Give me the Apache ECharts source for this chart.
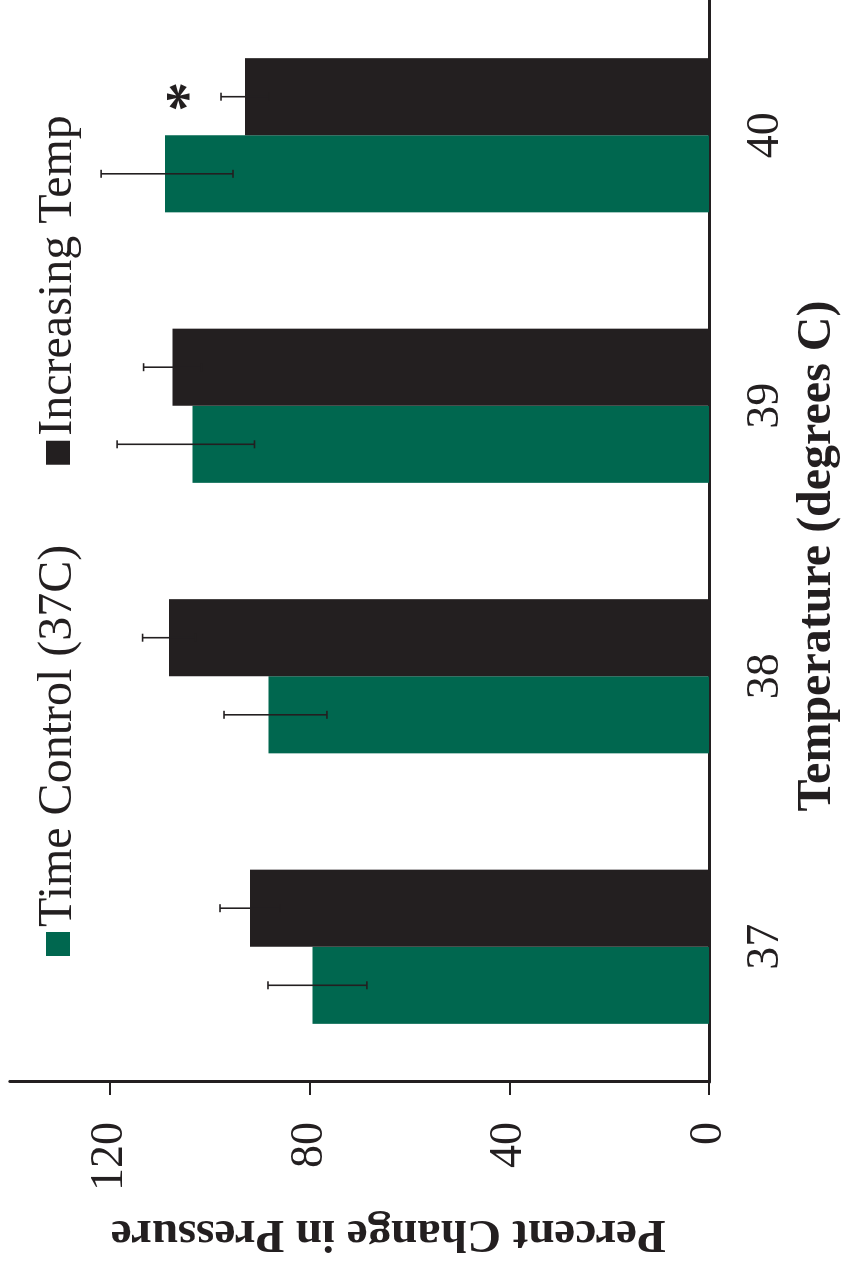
<!DOCTYPE html>
<html>
<head>
<meta charset="utf-8">
<script src="https://cdn.jsdelivr.net/npm/echarts@6/dist/echarts.min.js"></script>
<style>
  html, body { margin: 0; padding: 0; background: #ffffff; }
  body { width: 847px; height: 1266px; overflow: hidden; position: relative; }
  /* The figure is laid out as an ordinary column chart and turned a quarter
     turn counter-clockwise, so the temperature axis runs up the right side. */
  #chart {
    position: absolute; left: 0; top: 0;
    width: 1266px; height: 847px;
    transform-origin: 0 0;
    transform: translate(0, 1266px) rotate(-90deg);
  }
</style>
</head>
<body>
<div id="chart"></div>
<script>
// Temperature steps (degrees C)
const categories = ['37', '38', '39', '40'];

// Time control held at 37C: mean percent change and error bar extents
const timeControl = [79.4, 88.2, 103.4, 108.9];
const timeControlErrPlus = [8.9, 8.9, 15.1, 12.8];
const timeControlErrMinus = [10.9, 11.7, 12.4, 13.6];

// Increasing temperature: mean percent change and error bar extent
const increasingTemp = [91.9, 108.1, 107.4, 92.9];
const increasingTempErr = [6.0, 5.3, 5.8, 4.8];

// Significance marks drawn above the increasing-temperature bars
const significance = ['', '', '', '*'];

// Value axis ticks
const valueTicks = [0, 40, 80, 120];

const SERIF = '"Liberation Serif", "Times New Roman", Times, serif';
const INK = '#231f20';
const GREEN = '#00674f';
const CATEGORY_GAP = 0.43;

const chart = echarts.init(document.getElementById('chart'), null, { width: 1266, height: 847 });

function errorBars(side) {
  return function (params, api) {
    const i = api.value(0);
    const v = api.value(1);
    const hi = api.coord([i, v + api.value(2)]);
    const lo = api.coord([i, v - api.value(3)]);
    const band = api.size([1, 0])[0];
    const barW = band * (1 - CATEGORY_GAP) / 2;
    const x = hi[0] + side * barW / 2;
    const cap = 4;
    const style = { stroke: INK, lineWidth: 1.6 };
    const children = [
      { type: 'line', shape: { x1: x, y1: lo[1], x2: x, y2: hi[1] }, style },
      { type: 'line', shape: { x1: x - cap, y1: hi[1], x2: x + cap, y2: hi[1] }, style },
      { type: 'line', shape: { x1: x - cap, y1: lo[1], x2: x + cap, y2: lo[1] }, style }
    ];
    const mark = significance[params.dataIndex];
    if (side > 0 && mark) {
      children.push({
        type: 'text',
        x: x, y: hi[1] - 31,
        style: {
          text: mark, fill: INK,
          font: 'bold 60px ' + SERIF,
          align: 'center', verticalAlign: 'middle'
        }
      });
    }
    return { type: 'group', children };
  };
}

chart.setOption({
  animation: false,
  backgroundColor: '#ffffff',
  textStyle: { fontFamily: SERIF, color: INK },
  legend: {
    data: ['Time Control (37C)', 'Increasing Temp'],
    left: 305, top: 29,
    icon: 'rect',
    itemWidth: 24, itemHeight: 24,
    itemGap: 80,
    textStyle: { fontFamily: SERIF, fontSize: 48, color: INK }
  },
  grid: { left: 184, right: -6, top: 9.7, bottom: 135, containLabel: false },
  xAxis: {
    type: 'category',
    data: categories,
    name: 'Temperature (degrees C)',
    nameLocation: 'middle',
    nameGap: 83,
    nameTextStyle: { fontFamily: SERIF, fontSize: 48, fontWeight: 'bold', color: INK, padding: [0, 30, 0, 0] },
    axisLine: { lineStyle: { color: INK, width: 3 } },
    axisTick: { show: false },
    axisLabel: { fontFamily: SERIF, fontSize: 46, color: INK, margin: 34 }
  },
  yAxis: {
    type: 'value',
    min: 0, max: 140, interval: 40,
    name: 'Percent Change in Pressure',
    nameLocation: 'middle',
    nameGap: 128,
    nameTextStyle: { fontFamily: SERIF, fontSize: 47, fontWeight: 'bold', color: INK, padding: [0, 58, 0, 0] },
    axisLine: { show: true, lineStyle: { color: INK, width: 3 } },
    axisTick: { show: true, length: 13, customValues: valueTicks, lineStyle: { color: INK, width: 2 } },
    axisLabel: { fontFamily: SERIF, fontSize: 46, color: INK, margin: 40, customValues: valueTicks },
    splitLine: { show: false }
  },
  series: [
    {
      name: 'Time Control (37C)',
      type: 'bar',
      data: timeControl,
      barGap: '0%',
      barCategoryGap: (CATEGORY_GAP * 100) + '%',
      itemStyle: { color: GREEN }
    },
    {
      name: 'Increasing Temp',
      type: 'bar',
      data: increasingTemp,
      barGap: '0%',
      barCategoryGap: (CATEGORY_GAP * 100) + '%',
      itemStyle: { color: INK }
    },
    {
      type: 'custom',
      name: 'tc-error',
      z: 5,
      silent: true,
      renderItem: errorBars(-1),
      data: timeControl.map((v, i) => [i, v, timeControlErrPlus[i], timeControlErrMinus[i]])
    },
    {
      type: 'custom',
      name: 'it-error',
      z: 5,
      silent: true,
      renderItem: errorBars(1),
      data: increasingTemp.map((v, i) => [i, v, increasingTempErr[i], increasingTempErr[i]])
    }
  ]
});
</script>
</body>
</html>
